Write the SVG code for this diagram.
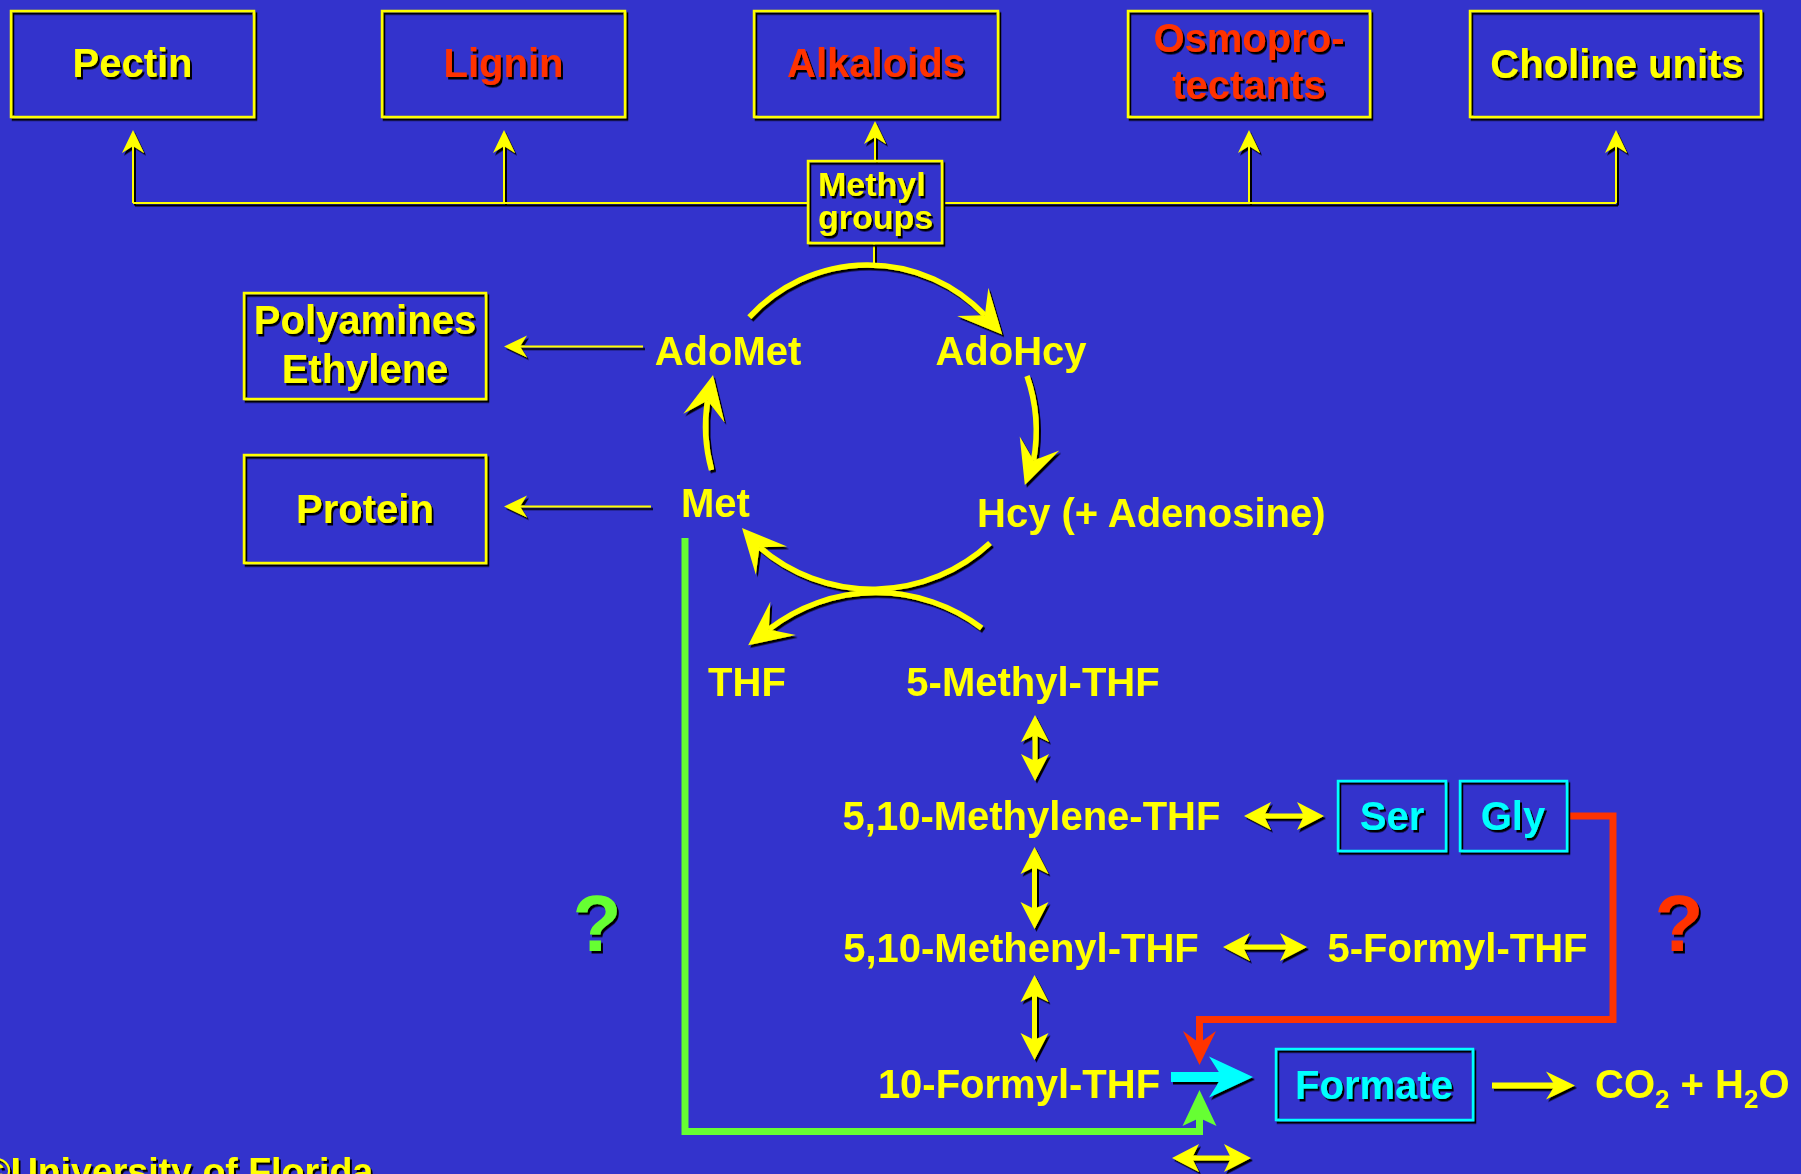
<svg xmlns="http://www.w3.org/2000/svg" width="1801" height="1174" viewBox="0 0 1801 1174">
  <defs>
    <!-- hard black drop shadow used by boxes, labels and yellow arrows -->
    <filter id="shadow" filterUnits="userSpaceOnUse" x="0" y="0" width="1801" height="1174">
      <feDropShadow dx="2" dy="2.5" stdDeviation="0.4" flood-color="#000" flood-opacity="1"/>
    </filter>
    <!-- arrowheads, tip pointing along +x -->
    <path id="head-thin" d="M0,0 L-23,-11 L-16,0 L-23,11 Z"/>
    <path id="head-cycle" d="M26,0 L-18,-21 L0,0 L-18,21 Z"/>
    <path id="head-double" d="M0,0 L-27,-14 L-20,0 L-27,14 Z"/>
    <path id="head-wide" d="M0,0 L-44,-20.5 L-31,0 L-44,20.5 Z"/>
    <path id="head-mid" d="M0,0 L-29,-14 L-20,0 L-29,14 Z"/>
    <path id="head-red" d="M0,0 L-34,-16.5 L-22,0 L-34,16.5 Z"/>
    <path id="head-green" d="M0,0 L-36,-17 L-28,0 L-36,17 Z"/>
  </defs>
  <style>
    text{font-family:"Liberation Sans",Arial,Helvetica,sans-serif;font-weight:bold;font-size:40px}
    text.s34{font-size:34px}
    text.s37{font-size:37.5px}
    text.s80{font-size:80px}
    .sub{font-size:26px}
    .mid{text-anchor:middle}
    .y{fill:#ffff00}
    .r{fill:#ff3300}
    .c{fill:#00ffff}
    .g{fill:#66ff33}
    .box{fill:none;stroke:#ffff00;stroke-width:2.5}
    .cbox{fill:none;stroke:#00ffff;stroke-width:2.5}
    .thin{fill:none;stroke:#ffff00;stroke-width:2}
    .arc{fill:none;stroke:#ffff00;stroke-width:5.5}
    .dbl{fill:none;stroke:#ffff00;stroke-width:5}
    .sh{filter:url(#shadow)}
  </style>

  <rect width="1801" height="1174" fill="#3333cc"/>

  <!-- connectors -->
  <g id="connectors">
    <!-- methyl group distribution tree -->
    <g class="sh">
      <path class="thin" d="M133,203 H808 M942,203 H1616 M133,203 V146 M504,203 V146 M1249,203 V146 M1616,203 V146 M875,161 V137 M874,243 V266"/>
      <use href="#head-thin" class="y" transform="translate(133,130) rotate(-90)"/>
      <use href="#head-thin" class="y" transform="translate(504,130) rotate(-90)"/>
      <use href="#head-thin" class="y" transform="translate(875,121) rotate(-90)"/>
      <use href="#head-thin" class="y" transform="translate(1249,130) rotate(-90)"/>
      <use href="#head-thin" class="y" transform="translate(1616,130) rotate(-90)"/>
      <!-- side products -->
      <path class="thin" d="M643,346.5 H519 M651,506.5 H519"/>
      <use href="#head-thin" class="y" transform="translate(504,346.5) rotate(180)"/>
      <use href="#head-thin" class="y" transform="translate(504,506.5) rotate(180)"/>
    </g>

    <!-- activated methyl cycle -->
    <g class="sh">
      <path class="arc" d="M749.3,317.2 A161,161 0 0 1 984.8,315.2"/>
      <use href="#head-cycle" class="y" transform="translate(984.8,315.2) rotate(48)"/>
      <path class="arc" d="M1027,376 A168,168 0 0 1 1033.5,460.5"/>
      <use href="#head-cycle" class="y" transform="translate(1033.5,460.5) rotate(109.5)"/>
      <path class="arc" d="M711.5,470 A162.5,162.5 0 0 1 707.6,400.4"/>
      <use href="#head-cycle" class="y" transform="translate(707.6,400.4) rotate(-78)"/>
      <path class="arc" d="M990,543 A173,173 0 0 1 759.4,547.2"/>
      <use href="#head-cycle" class="y" transform="translate(759.4,547.2) rotate(-132)"/>
      <path class="arc" d="M981.7,628 A175,175 0 0 0 768.8,629.4"/>
      <use href="#head-cycle" class="y" transform="translate(768.8,629.4) rotate(142.5)"/>
    </g>

    <!-- reversible folate interconversions -->
    <g class="sh">
      <path class="dbl" d="M1035,735 V761 M1034.5,867 V909 M1034.5,995 V1040 M1264,816 H1304 M1243,947 H1287 M1192,1158 H1231"/>
      <use href="#head-double" class="y" transform="translate(1035,715) rotate(-90)"/>
      <use href="#head-double" class="y" transform="translate(1035,781) rotate(90)"/>
      <use href="#head-double" class="y" transform="translate(1034.5,847) rotate(-90)"/>
      <use href="#head-double" class="y" transform="translate(1034.5,929) rotate(90)"/>
      <use href="#head-double" class="y" transform="translate(1034.5,975) rotate(-90)"/>
      <use href="#head-double" class="y" transform="translate(1034.5,1060) rotate(90)"/>
      <use href="#head-double" class="y" transform="translate(1244,816) rotate(180)"/>
      <use href="#head-double" class="y" transform="translate(1324,816)"/>
      <use href="#head-double" class="y" transform="translate(1223,947) rotate(180)"/>
      <use href="#head-double" class="y" transform="translate(1307,947)"/>
      <use href="#head-double" class="y" transform="translate(1172,1158) rotate(180)"/>
      <use href="#head-double" class="y" transform="translate(1251,1158)"/>
      <!-- formate to CO2 -->
      <path d="M1492,1085.5 H1556" fill="none" stroke="#ffff00" stroke-width="6"/>
      <use href="#head-mid" class="y" transform="translate(1575,1085.5)"/>
      <!-- 10-formyl-THF to formate -->
      <path d="M1171,1077 H1224" fill="none" stroke="#00ffff" stroke-width="10"/>
      <use href="#head-wide" class="c" transform="translate(1253,1077)"/>
    </g>

    <!-- glycine route (red) and methionine route (green) -->
    <path d="M1568,816 H1613 V1019.5 H1199.5 V1044" fill="none" stroke="#ff3300" stroke-width="7"/>
    <use href="#head-red" class="r" transform="translate(1199.5,1065) rotate(90)"/>
    <path d="M685,538 V1131.5 H1199.5 V1117" fill="none" stroke="#66ff33" stroke-width="7"/>
    <use href="#head-green" class="g" transform="translate(1199.5,1090) rotate(-90)"/>
  </g>

  <!-- methyl group sinks -->
  <g id="pectin" class="sh">
    <rect class="box" x="11" y="11" width="243" height="106"/>
    <text class="y mid" x="132.5" y="77">Pectin</text>
  </g>
  <g id="lignin" class="sh">
    <rect class="box" x="382" y="11" width="243" height="106"/>
    <text class="r mid" x="503.5" y="77">Lignin</text>
  </g>
  <g id="alkaloids" class="sh">
    <rect class="box" x="754" y="11" width="244" height="106"/>
    <text class="r mid" x="876" y="77">Alkaloids</text>
  </g>
  <g id="osmoprotectants" class="sh">
    <rect class="box" x="1128" y="11" width="242" height="106"/>
    <text class="r mid" x="1249" y="52">Osmopro-</text>
    <text class="r mid" x="1249" y="99">tectants</text>
  </g>
  <g id="choline" class="sh">
    <rect class="box" x="1470" y="11" width="291" height="106"/>
    <text class="y mid" x="1617" y="78">Choline units</text>
  </g>
  <g id="methyl-groups" class="sh">
    <rect class="box" x="808" y="161" width="134" height="82"/>
    <text class="y s34" x="818" y="196">Methyl</text>
    <text class="y s34" x="818" y="229">groups</text>
  </g>

  <!-- side products -->
  <g id="polyamines" class="sh">
    <rect class="box" x="244" y="293" width="242" height="106"/>
    <text class="y mid" x="365" y="334">Polyamines</text>
    <text class="y mid" x="365" y="383">Ethylene</text>
  </g>
  <g id="protein" class="sh">
    <rect class="box" x="244" y="455" width="242" height="108"/>
    <text class="y mid" x="365" y="523">Protein</text>
  </g>

  <!-- cycle metabolites -->
  <g id="adomet"><text class="y mid" x="728" y="365">AdoMet</text></g>
  <g id="adohcy"><text class="y mid" x="1011" y="365">AdoHcy</text></g>
  <g id="met"><text class="y mid" x="715.5" y="517">Met</text></g>
  <g id="hcy"><text class="y" x="977" y="527">Hcy (+ Adenosine)</text></g>
  <g id="thf"><text class="y mid" x="747" y="696">THF</text></g>

  <!-- one-carbon folates -->
  <g id="methyl-thf"><text class="y mid" x="1033" y="696">5-Methyl-THF</text></g>
  <g id="methylene-thf"><text class="y mid" x="1031.5" y="830">5,10-Methylene-THF</text></g>
  <g id="methenyl-thf"><text class="y mid" x="1021" y="962">5,10-Methenyl-THF</text></g>
  <g id="formyl5-thf"><text class="y mid" x="1457.5" y="962">5-Formyl-THF</text></g>
  <g id="formyl10-thf"><text class="y mid" x="1019" y="1098">10-Formyl-THF</text></g>
  <g id="ser" class="sh">
    <rect class="cbox" x="1338" y="781" width="108" height="70"/>
    <text class="c mid" x="1392" y="830">Ser</text>
  </g>
  <g id="gly" class="sh">
    <rect class="cbox" x="1460" y="781" width="107" height="70"/>
    <text class="c mid" x="1513" y="830">Gly</text>
  </g>
  <g id="formate" class="sh">
    <rect class="cbox" x="1276" y="1049" width="197" height="71"/>
    <text class="c mid" x="1374" y="1099">Formate</text>
  </g>
  <g id="co2-h2o">
    <text class="y" x="1595" y="1098">CO<tspan class="sub" dy="10">2</tspan><tspan dy="-10"> + H</tspan><tspan class="sub" dy="10">2</tspan><tspan dy="-10">O</tspan></text>
  </g>

  <!-- unresolved routes -->
  <g id="unknown-green" class="sh"><text class="g mid s80" x="597" y="951">?</text></g>
  <g id="unknown-red" class="sh"><text class="r mid s80" x="1679" y="951">?</text></g>

  <g id="credit" class="sh"><text class="y s37" x="-17" y="1184">©University of Florida</text></g>
</svg>
